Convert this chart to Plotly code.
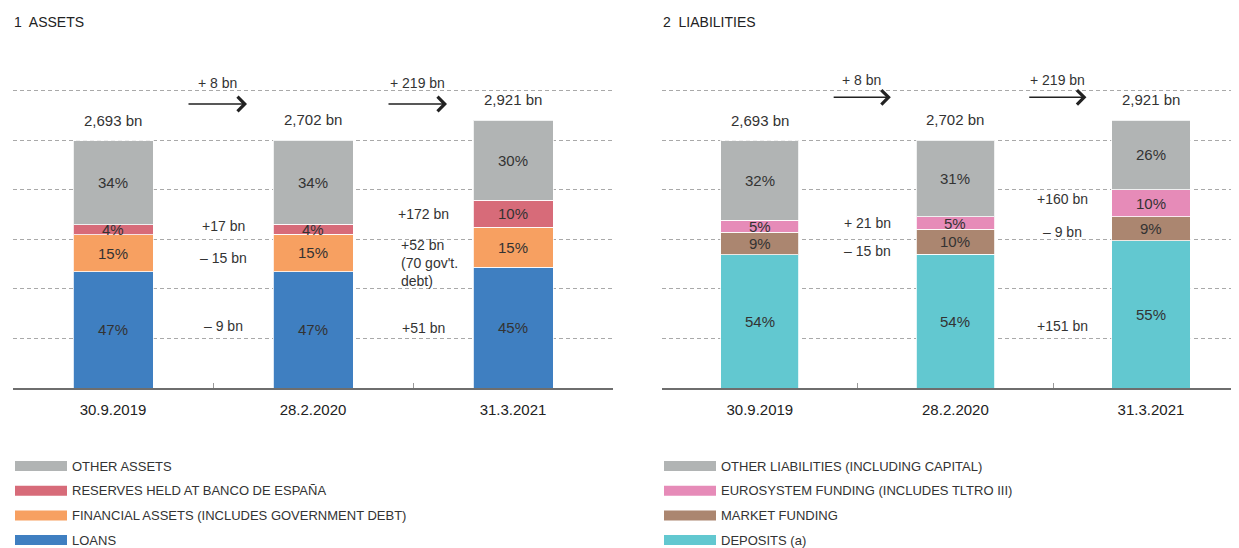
import plotly.graph_objects as go

# page body has an 8px margin, so the figure is drawn 8px in from the corner
OFF = 8
W, H = 1239 - OFF, 548 - OFF

dates = ["30.9.2019", "28.2.2020", "31.3.2021"]
totals = [2693, 2702, 2921]
total_labels = ["2,693 bn", "2,702 bn", "2,921 bn"]
total_changes = ["+ 8 bn", "+ 219 bn"]

# assets, % of total balance (bottom to top)
loans = [47, 47, 45]
financial_assets = [15, 15, 15]
reserves = [4, 4, 10]
other_assets = [34, 34, 30]

# liabilities, % of total balance (bottom to top)
deposits = [54, 54, 55]
market_funding = [9, 10, 9]
eurosystem_funding = [5, 5, 10]
other_liabilities = [32, 31, 26]

# changes between consecutive dates, per component
loans_chg = ["– 9 bn", "+51 bn"]
financial_chg = ["– 15 bn", "+52 bn<br>(70 gov't.<br>debt)"]
reserves_chg = ["+17 bn", "+172 bn"]
other_assets_chg = [None, None]
deposits_chg = [None, "+151 bn"]
market_chg = ["– 15 bn", "– 9 bn"]
eurosystem_chg = ["+ 21 bn", "+160 bn"]
other_liab_chg = [None, None]

FONT = "Liberation Sans, Arial, sans-serif"
TXT = "#333333"


def px(x):   # reference pixel -> paper x
    return (x - OFF) / W


def py(y):   # reference pixel -> paper y
    return (H - (y - OFF)) / H


panels = [
    dict(n=1, title="1  ASSETS", px0=13, px1=613, rng=[-0.5, 2.5],
         arrow_y=1.06, chg_y=1.14,
         series=[("LOANS", loans, "#3f7fc1", loans_chg, [-4, 0]),
                 ("FINANCIAL ASSETS (INCLUDES GOVERNMENT DEBT)", financial_assets, "#f7a061", financial_chg, [5, 0]),
                 ("RESERVES HELD AT BANCO DE ESPAÑA", reserves, "#d76b79", reserves_chg, [-3, 0]),
                 ("OTHER ASSETS", other_assets, "#b1b4b4", other_assets_chg, [0, 0])]),
    dict(n=2, title="2  LIABILITIES", px0=662, px1=1239, rng=[-0.5, 2.45],
         arrow_y=1.085, chg_y=1.15,
         series=[("DEPOSITS (a)", deposits, "#62c8d0", deposits_chg, [0, 12]),
                 ("MARKET FUNDING", market_funding, "#ab8670", market_chg, [9, 3]),
                 ("EUROSYSTEM FUNDING (INCLUDES TLTRO III)", eurosystem_funding, "#e68bb8", eurosystem_chg, [0, -4]),
                 ("OTHER LIABILITIES (INCLUDING CAPITAL)", other_liabilities, "#b1b4b4", other_liab_chg, [0, 0])]),
]

fig = go.Figure()
annotations, shapes = [], []
Y_DOM = [py(388), py(60)]
Y_MAX = 3576

for p in panels:
    sfx = "" if p["n"] == 1 else str(p["n"])
    xa, ya = "x" + sfx, "y" + sfx
    base = [0.0] * len(dates)
    for name, pct, color, chg, dy in p["series"]:
        vals = [v * t / 100 for v, t in zip(pct, totals)]
        fig.add_trace(go.Bar(x=dates, y=vals, name=name, marker_color=color,
                             marker_line=dict(color="rgba(255,255,255,0.8)", width=1),
                             width=0.4, xaxis=xa, yaxis=ya, showlegend=False,
                             hoverinfo="skip"))
        mids = [b + v / 2 for b, v in zip(base, vals)]
        for i, (m, v) in enumerate(zip(mids, pct)):
            annotations.append(dict(x=i, y=m, xref=xa, yref=ya, text=f"{v}%",
                                    showarrow=False, font=dict(size=15, color=TXT)))
        for i, c in enumerate(chg):
            if c is None:
                continue
            multi = "<br>" in c
            annotations.append(dict(x=i + 0.55 + (-0.12 if multi else 0), y=mids[i + 1],
                                    xref=xa, yref=ya, text=c, showarrow=False,
                                    align="left", xanchor="left" if multi else "center",
                                    yanchor="top" if multi else "middle",
                                    yshift=(12 if multi else 0) - dy[i],
                                    font=dict(size=14, color=TXT)))
        base = [b + v for b, v in zip(base, vals)]

    # totals above bars
    for i, (t, lab) in enumerate(zip(totals, total_labels)):
        annotations.append(dict(x=i, y=t, xref=xa, yref=ya, text=lab, showarrow=False,
                                yanchor="bottom", yshift=10, font=dict(size=15, color=TXT)))
    # arrows + total change
    top = max(totals)
    for i, c in enumerate(total_changes):
        annotations.append(dict(x=i + 0.67, y=top * p["arrow_y"], ax=i + 0.37, ay=top * p["arrow_y"],
                                xref=xa, yref=ya, axref=xa, ayref=ya, text="", showarrow=True,
                                arrowhead=4, arrowsize=2, arrowwidth=1.4, arrowcolor="#222",
                                standoff=0, startstandoff=0))
        annotations.append(dict(x=i + 0.52, y=top * p["chg_y"], xref=xa, yref=ya, text=c,
                                showarrow=False, font=dict(size=14, color=TXT)))

    # panel title
    annotations.append(dict(x=px(p["px0"] - 1), y=py(22), xref="paper", yref="paper",
                            text=p["title"], showarrow=False, xanchor="left", yanchor="middle",
                            font=dict(size=14, color="#222", family=FONT)))
    # legend drawn by hand (wide swatches)
    for k, (name, pct, color, chg, dy) in enumerate(reversed(p["series"])):
        yc = 466 + 24.7 * k
        shapes.append(dict(type="rect", xref="paper", yref="paper",
                           x0=px(p["px0"] + 2), x1=px(p["px0"] + 54),
                           y0=py(yc + 5), y1=py(yc - 5),
                           fillcolor=color, line_width=0))
        annotations.append(dict(x=px(p["px0"] + 57), y=py(yc), xref="paper", yref="paper",
                                text=name, showarrow=False, xanchor="left", yanchor="middle",
                                font=dict(size=13, color=TXT, family=FONT)))

    xdom = [px(p["px0"]), min(1.0, px(p["px1"]))]
    fig.update_layout(**{
        "xaxis" + sfx: dict(domain=xdom, range=p["rng"], type="category", anchor=ya,
                            showline=True, linecolor="#6e6e6e", linewidth=2,
                            ticks="inside", tickson="boundaries", ticklen=5, tickcolor="#9a9a9a",
                            ticklabelstandoff=7,
                            tickfont=dict(size=15, color="#222"), showgrid=False),
        "yaxis" + sfx: dict(domain=Y_DOM, range=[0, Y_MAX], anchor=xa, dtick=540, tick0=0,
                            showticklabels=False, zeroline=False, showgrid=True,
                            gridcolor="#a9a9a9", griddash="4px,3px", gridwidth=1),
    })

fig.update_layout(barmode="stack", width=W, height=H, margin=dict(l=0, r=0, t=0, b=0),
                  plot_bgcolor="white", paper_bgcolor="white",
                  font=dict(family=FONT, color=TXT),
                  annotations=annotations, shapes=shapes)

fig.write_html("out.html")
